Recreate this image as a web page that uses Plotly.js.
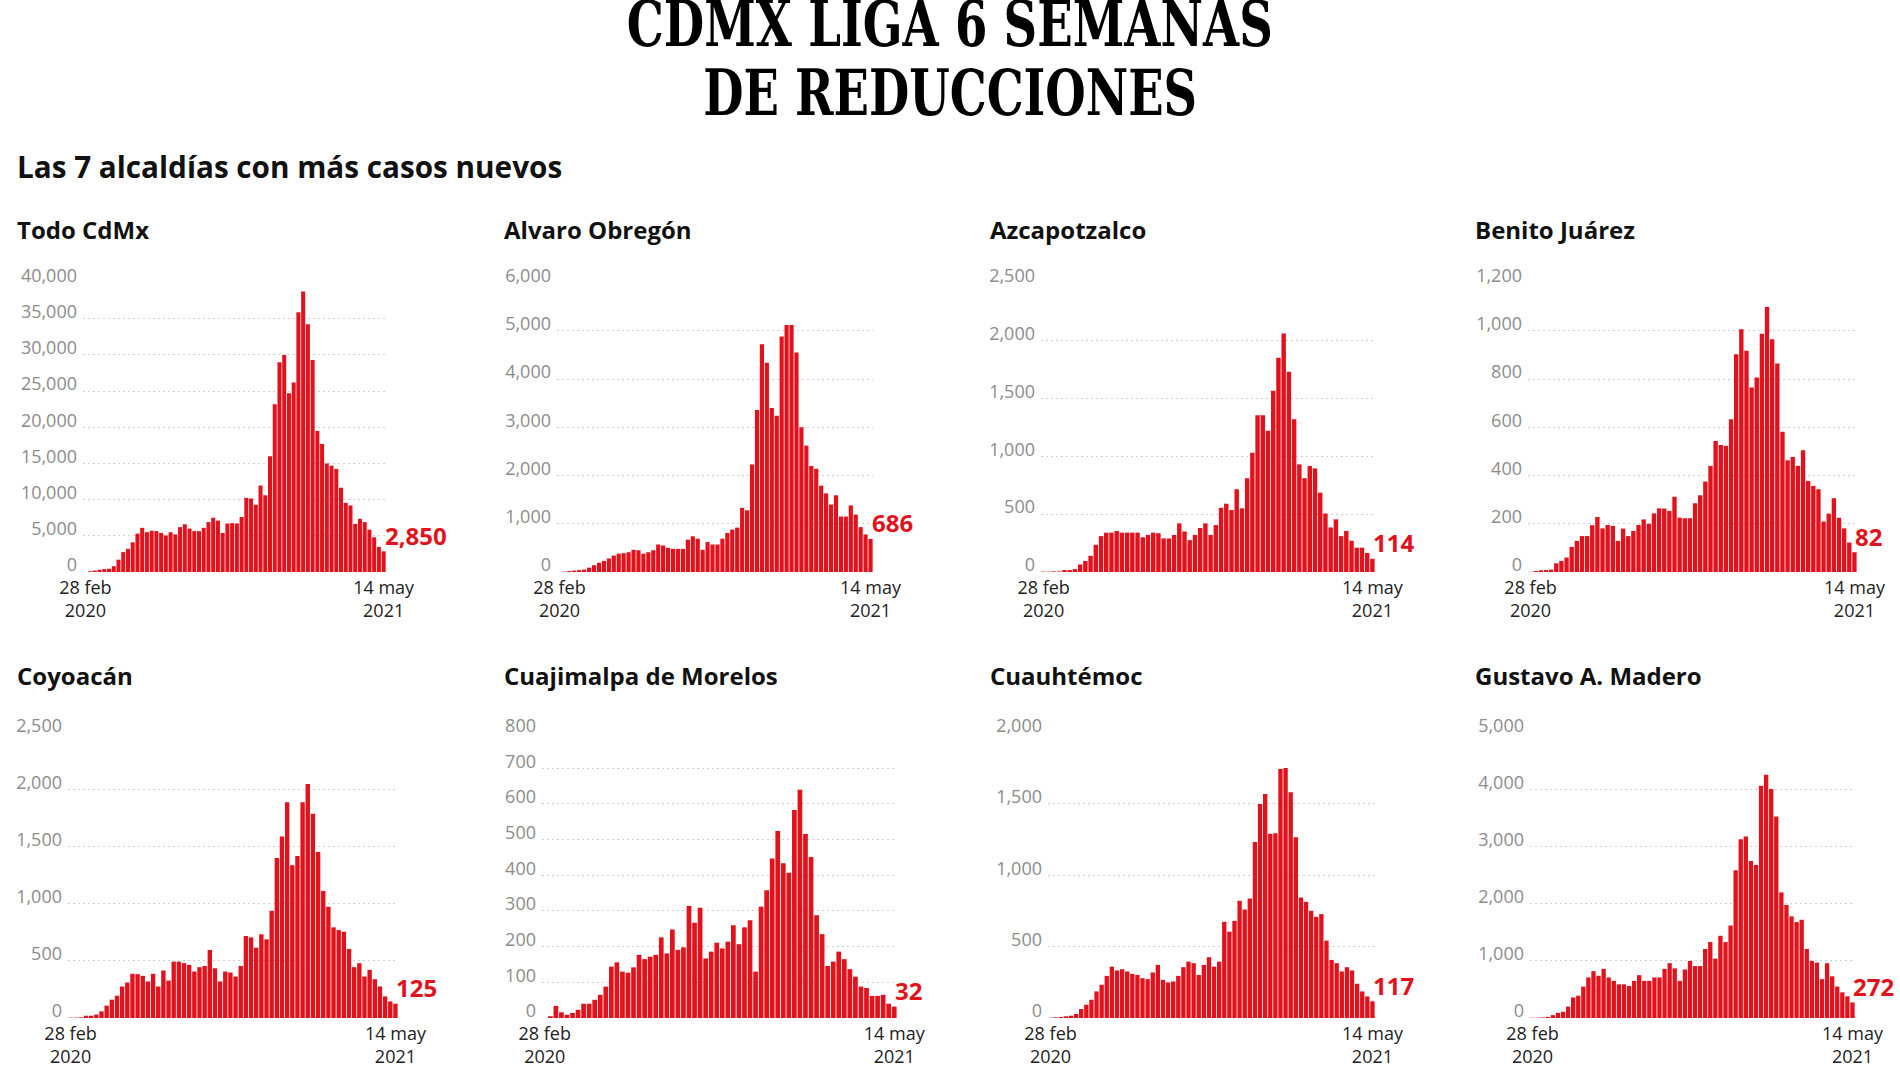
<!DOCTYPE html>
<html>
<head>
<meta charset="utf-8">
<script src="https://cdn.plot.ly/plotly-3.0.1.min.js"></script>
<style>
html,body{margin:0;padding:0;background:#fff;}
#chart{width:1900px;height:1068px;}
</style>
</head>
<body>
<div id="chart"></div>
<script>
// ---------- DATA (weekly new cases, 28 feb 2020 - 14 may 2021) ----------
const PRIMERA_SEMANA = '2020-02-28';
const NUM_SEMANAS = 64;
const ETIQUETAS_X = ['28 feb<br>2020', '14 may<br>2021'];

const todoCdmx = [0,100,200,300,400,450,800,1700,2750,3200,
  4100,5300,6100,5500,5700,5650,5400,5050,5500,5200,
  6200,6600,6000,5650,5650,6100,6900,7500,7100,5400,
  6700,6750,6700,7600,10250,10150,9300,11950,10600,16000,
  23200,29000,30000,24700,26200,35900,38750,34250,29300,19500,
  17700,15000,14700,14250,11650,9550,9200,6650,7350,6900,
  5850,4800,3450,2850];

const alvaroObregon = [0,10,20,30,40,50,90,140,190,230,
  280,340,380,390,410,460,450,380,410,450,
  570,550,500,480,480,480,670,740,690,460,
  620,570,570,690,810,880,920,1330,1280,2230,
  3360,4720,4340,3400,3240,4880,5120,5120,4550,3000,
  2620,2200,2140,1790,1630,1400,1590,1150,1150,1380,
  1190,930,780,686];

const azcapotzalco = [3,3,5,5,17,17,25,65,95,140,
  235,310,340,340,355,340,340,340,340,300,
  320,340,335,290,290,320,420,350,275,320,
  380,420,320,405,555,590,535,715,550,810,
  1030,1355,1355,1220,1565,1850,2060,1730,1320,930,
  810,915,895,685,505,385,455,310,355,270,
  210,210,165,114];

const benitoJuarez = [1,4,7,8,10,36,46,60,104,129,
  149,149,194,228,181,195,191,129,180,149,
  170,195,218,200,243,264,263,253,312,225,
  223,223,285,318,375,440,543,527,523,633,
  903,1006,917,765,806,988,1099,965,864,582,
  463,477,440,505,377,357,343,209,242,306,
  225,181,122,82];

const coyoacan = [3,3,6,20,20,30,58,108,160,195,
  276,311,387,384,369,320,387,276,416,328,
  494,494,480,465,407,445,456,596,436,320,
  407,398,363,456,718,706,616,733,689,939,
  1401,1590,1890,1337,1419,1890,2049,1788,1453,1113,
  974,794,770,756,605,445,480,363,422,340,
  276,189,145,125];

const cuajimalpa = [0,5,34,16,9,14,23,40,40,51,
  65,88,144,156,130,127,142,177,165,172,
  177,226,181,248,191,198,314,267,309,167,
  186,211,195,214,260,207,254,274,130,312,
  358,447,524,434,407,583,640,516,451,288,
  235,146,158,186,165,137,116,88,84,62,
  62,65,40,32];

const cuauhtemoc = [2,5,7,12,16,28,63,93,128,186,
  233,295,360,333,342,326,309,302,279,272,
  319,372,267,249,256,295,356,395,384,302,
  372,426,360,395,674,605,681,821,760,837,
  1233,1500,1570,1291,1295,1744,1751,1581,1267,844,
  814,751,709,728,542,407,384,326,356,333,
  240,186,151,117];

const gustavoAMadero = [5,5,10,20,50,90,110,200,360,390,
  550,710,820,740,860,710,650,590,590,560,
  650,750,650,650,710,710,860,960,870,650,
  850,1000,910,910,1210,1330,1040,1440,1330,1620,
  2590,3130,3180,2750,2680,4070,4260,4010,3530,2200,
  1980,1780,1680,1720,1210,1000,970,680,960,730,
  550,450,380,272];

const NOMBRES = ['Todo CdMx','Alvaro Obregón','Azcapotzalco','Benito Juárez',
  'Coyoacán','Cuajimalpa de Morelos','Cuauhtémoc','Gustavo A. Madero'];
const SERIES = [todoCdmx, alvaroObregon, azcapotzalco, benitoJuarez,
  coyoacan, cuajimalpa, cuauhtemoc, gustavoAMadero];
const Y_MAX = [40000, 6000, 2500, 1200, 2500, 800, 2000, 5000];
const Y_DTICK = [5000, 1000, 500, 200, 500, 100, 500, 1000];

const TITULO = ['CDMX LIGA 6 SEMANAS', 'DE REDUCCIONES'];
const SUBTITULO = 'Las 7 alcaldías con más casos nuevos';

// ---------- LAYOUT GEOMETRY (pixels) ----------
const W = 1900, H = 1068;
const GEOM = [
  {x0:83,  x1:386,  y0:282, y1:572, tx:15,   ty:229},
  {x0:557, x1:873,  y0:282, y1:572, tx:502,  ty:229},
  {x0:1041,x1:1375, y0:282, y1:572, tx:988,  ty:229},
  {x0:1528,x1:1857, y0:282, y1:572, tx:1473, ty:229},
  {x0:68,  x1:398,  y0:732, y1:1018, tx:15,  ty:675},
  {x0:542, x1:897,  y0:732, y1:1018, tx:502, ty:675},
  {x0:1048,x1:1375, y0:732, y1:1018, tx:988, ty:675},
  {x0:1530,x1:1855, y0:732, y1:1018, tx:1473,ty:675}
];
const TITLE_LINES = [{y: 24, width: 646}, {y: 93, width: 494}];

const RED = '#e2121c';
const SANS = 'Open Sans, Noto Sans, sans-serif';
const DAY = 864e5;

function fmtDate(ms){ return new Date(ms).toISOString().slice(0,19).replace('T',' '); }
const t0 = Date.parse(PRIMERA_SEMANA + 'T00:00:00Z');
const SEMANAS = [];
for (let i = 0; i < NUM_SEMANAS; i++) SEMANAS.push(fmtDate(t0 + i*7*DAY));
const ULTIMA = SEMANAS[SEMANAS.length-1];
const X_RANGE = [fmtDate(t0 - 3.5*DAY), fmtDate(Date.parse(ULTIMA.replace(' ','T')+'Z') + 3.5*DAY)];

const data = [];
const layout = {
  width: W, height: H,
  margin: {l:0, r:0, t:0, b:0},
  paper_bgcolor: '#fff', plot_bgcolor: 'rgba(0,0,0,0)',
  showlegend: false,
  bargap: 0.15,
  hovermode: false,
  font: {family: SANS},
  annotations: []
};

SERIES.forEach((vals, i) => {
  const n = i + 1;
  const sfx = (n === 1 ? '' : String(n));
  const g = GEOM[i];
  data.push({
    type: 'bar', x: SEMANAS, y: vals,
    xaxis: 'x' + sfx, yaxis: 'y' + sfx,
    marker: {color: RED, line: {width: 0}},
    hoverinfo: 'skip'
  });
  layout['xaxis' + sfx] = {
    type: 'date',
    domain: [g.x0 / W, g.x1 / W],
    anchor: 'y' + sfx,
    range: X_RANGE,
    tickvals: [SEMANAS[0], ULTIMA],
    ticktext: ETIQUETAS_X,
    tickfont: {size: 18, color: '#222', family: SANS},
    ticks: '', showgrid: false, zeroline: false, showline: false,
    ticklabelstandoff: 3,
    fixedrange: true
  };
  layout['yaxis' + sfx] = {
    domain: [1 - g.y1 / H, 1 - g.y0 / H],
    anchor: 'x' + sfx,
    range: [0, Y_MAX[i] * 1.002],
    tick0: 0, dtick: Y_DTICK[i],
    tickformat: ',d',
    tickfont: {size: 18, color: '#8c8c8c', family: SANS},
    ticklabelposition: 'outside',
    ticklabelshift: -7,
    showgrid: true, gridcolor: '#cfcfcf', griddash: '2px,3px', gridwidth: 1,
    zeroline: false, showline: false, ticks: '',
    ticklabelstandoff: 5,
    fixedrange: true
  };
  // panel title
  layout.annotations.push({
    xref: 'paper', yref: 'paper', x: g.tx / W, y: 1 - g.ty / H,
    xanchor: 'left', yanchor: 'middle', showarrow: false,
    text: NOMBRES[i],
    font: {family: SANS, size: 24, color: '#111', weight: 700}
  });
  // last value label
  const last = vals[vals.length - 1];
  layout.annotations.push({
    xref: 'x' + sfx, yref: 'y' + sfx,
    x: ULTIMA, y: last, xanchor: 'left', yanchor: 'middle',
    xshift: -1, yshift: 16, showarrow: false,
    text: last.toLocaleString('en-US'),
    font: {family: SANS, size: 24, color: RED, weight: 700}
  });
});

// main title + subtitle
const TITLE_FONT = {family: 'DejaVu Serif, Liberation Serif, serif', size: 63, color: '#000', weight: 700};
TITULO.forEach((line, k) => {
  layout.annotations.push({
    xref: 'paper', yref: 'paper', x: 0.5, y: 1 - TITLE_LINES[k].y / H,
    xanchor: 'center', yanchor: 'middle',
    showarrow: false, text: line, font: TITLE_FONT
  });
});
layout.annotations.push({
  xref: 'paper', yref: 'paper', x: 15 / W, y: 1 - 166 / H, xanchor: 'left', yanchor: 'middle',
  showarrow: false, text: SUBTITULO,
  font: {family: SANS, size: 29.7, color: '#111', weight: 700}
});

Plotly.newPlot('chart', data, layout, {displayModeBar: false, staticPlot: true}).then(() => {
  // condense the headline glyphs to the reference's narrow serif proportions
  document.querySelectorAll('#chart .annotation-text').forEach(t => {
    const k = TITULO.indexOf(t.textContent);
    if (k >= 0) {
      t.setAttribute('textLength', TITLE_LINES[k].width);
      t.setAttribute('lengthAdjust', 'spacingAndGlyphs');
    }
  });
});
</script>
</body>
</html>
